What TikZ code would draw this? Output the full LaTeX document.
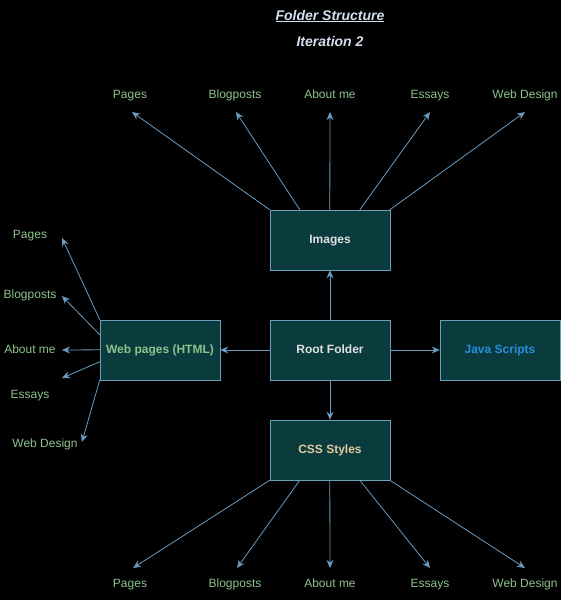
\documentclass[tikz,border=0pt]{standalone}
\usepackage{fontspec}
\setmainfont{Liberation Sans}
\usetikzlibrary{arrows.meta}
\definecolor{boxfill}{HTML}{0A3C3E}
\definecolor{boxline}{HTML}{6D9FBD}
\definecolor{linkcol}{HTML}{6A9BBF}
\definecolor{leafcol}{HTML}{8CC48C}
\definecolor{titlecol}{HTML}{D4DFF0}
\definecolor{csscol}{HTML}{E3CB9E}
\definecolor{jscol}{HTML}{2A8EE0}
\tikzset{
  folder/.style={draw=boxline, fill=boxfill, minimum width=120pt, minimum height=60pt, inner sep=0pt, text height=8.5pt, text depth=2.5pt, font=\fontsize{12}{14}\selectfont\bfseries, text=black!12},
  leaf/.style={inner sep=1pt, text height=8.5pt, text depth=2.5pt, font=\fontsize{12}{14}\selectfont, text=leafcol},
  link/.style={draw=linkcol, line width=0.8pt, -{Stealth[length=8pt,width=7pt]}}
}
\begin{document}
\begin{tikzpicture}[x=1pt, y=-1pt]
    \useasboundingbox[fill=black] (0,0) rectangle (561,600);
    \node[font=\fontsize{14}{16}\selectfont\bfseries\itshape, text=titlecol] (title) at (330,16) {\underline{Folder Structure}};
    \node[font=\fontsize{14}{16}\selectfont\bfseries\itshape, text=titlecol] (iter) at (330,41) {Iteration 2};

    \node[folder] (root) at (330,350) {Root Folder};
    \node[folder] (img) at (330,240) {Images};
    \node[folder, text=csscol] (css) at (330,450) {CSS Styles};
    \node[folder, text=leafcol] (html) at (160,350) {Web pages (HTML)};
    \node[folder, text=jscol] (js) at (500,350) {Java Scripts};

    \draw[link] (root) -- (img);
    \draw[link] (root) -- (css);
    \draw[link] (root) -- (html);
    \draw[link] (root) -- (js);

    % images row
    \foreach \i/\txt/\lx/\sx/\tx in {1/Pages/130/0/132, 2/Blogposts/235/30/236, 3/About me/330/60/330, 4/Essays/430/90/430, 5/Web Design/525/120/525} {
      \node[leaf] (imgleaf\i) at (\lx,95) {\txt};
      \coordinate (imgtip\i) at (\tx,112);
      \draw[link] ([xshift=\sx pt]img.north west) -- (imgtip\i);
    }

    % css row
    \foreach \i/\txt/\lx/\sx/\tx in {1/Pages/130/0/133, 2/Blogposts/235/30/237, 3/About me/330/60/330, 4/Essays/430/90/430, 5/Web Design/525/120/525} {
      \node[leaf] (cssleaf\i) at (\lx,584) {\txt};
      \coordinate (csstip\i) at (\tx,568);
      \draw[link] ([xshift=\sx pt]css.south west) -- (csstip\i);
    }

    % html column
    \foreach \i/\txt/\lx/\ly/\sy/\tx/\ty in {1/Pages/30/235/0/62/238, 2/Blogposts/30/295/15/62/296, 3/About me/30/350/30/62/350, 4/Essays/30/395/42/62/378, 5/Web Design/45/444/60/82/442} {
      \node[leaf] (htmlleaf\i) at (\lx,\ly) {\txt};
      \coordinate (htmltip\i) at (\tx,\ty);
      \draw[link] ([yshift=-\sy pt]html.north west) -- (htmltip\i);
    }
\end{tikzpicture}
\end{document}
